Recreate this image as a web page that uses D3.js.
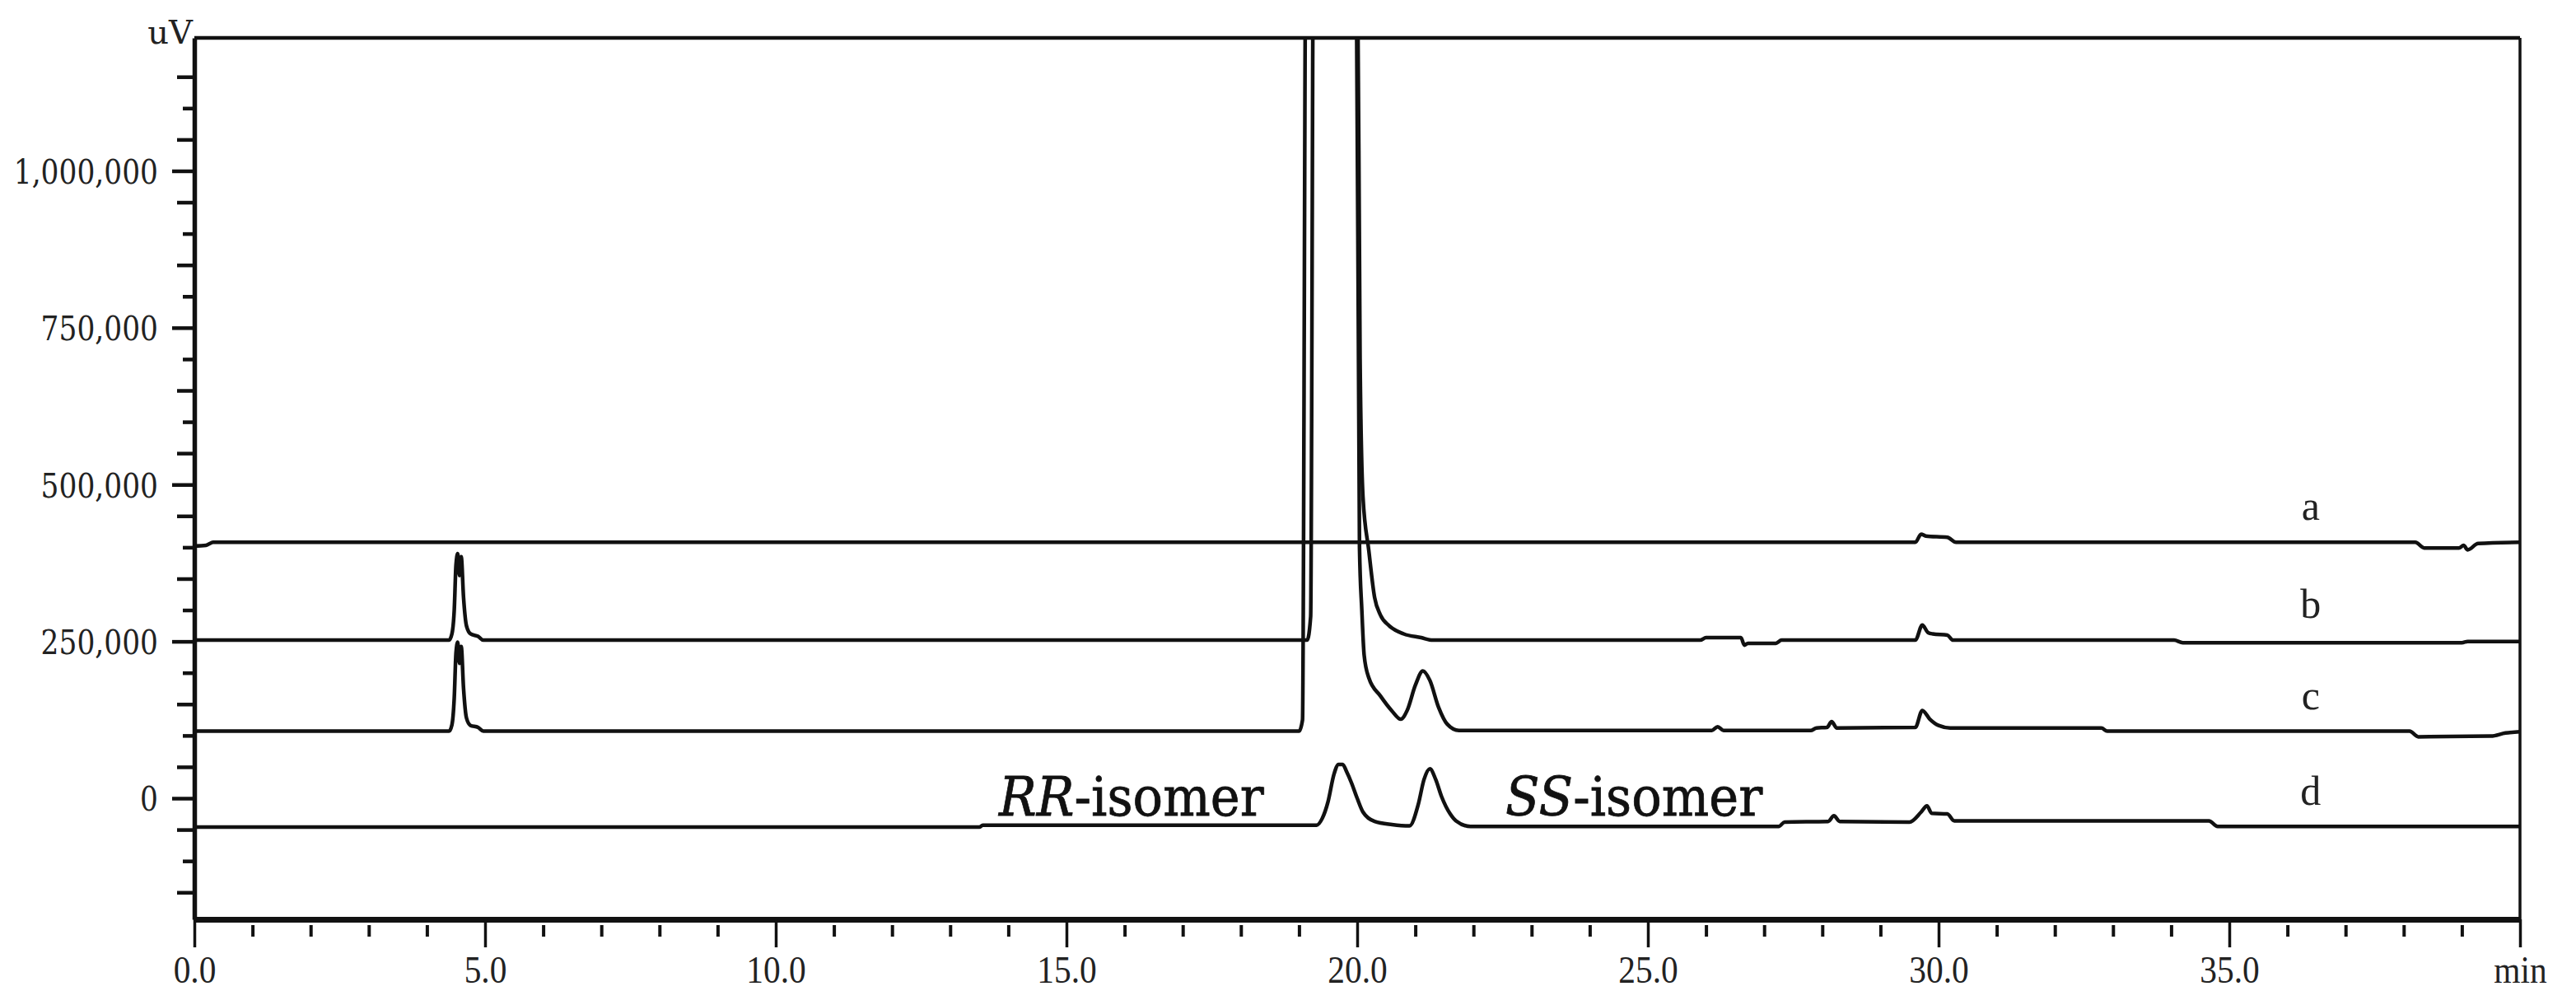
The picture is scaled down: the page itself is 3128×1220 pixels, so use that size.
<!DOCTYPE html>
<html>
<head>
<meta charset="utf-8">
<script src="https://cdn.jsdelivr.net/npm/d3@7"></script>
<style>
  body { margin: 0; background: #fff; }
  svg { display: block; }
</style>
</head>
<body>
<svg id="chart" width="3128" height="1220"></svg>
<script>
// chromatogram traces, [time (min), signal (uV)]
const seriesNames = ["a", "b", "c", "d"];
const baselines = [408000, 252000, 107000, -46000];

const traceA = [
  [0, 402000], [0.2, 403000], [0.32, 408000], [29.6, 408000], [29.7, 421000],
  [29.78, 418000], [30.15, 416000], [30.3, 408000], [38.2, 408000], [38.35, 399000],
  [38.95, 399000], [39.03, 403000], [39.1, 396000], [39.28, 406000], [40, 408000]
];

const traceB = [
  [0, 252000], [4.38, 252000], [4.43, 262000], [4.47, 300000], [4.5, 372000],
  [4.53, 390000], [4.56, 355000], [4.59, 385000], [4.63, 320000], [4.68, 275000],
  [4.75, 262000], [4.88, 258000], [4.97, 252000], [19.14, 252000], [19.2, 290000],
  [19.25, 1400000], [20.0, 1400000], [20.05, 700000], [20.1, 480000], [20.2, 395000],
  [20.3, 320000], [20.4, 292000], [20.55, 275000], [20.8, 262000], [21.1, 256000],
  [21.3, 252000], [25.9, 252000], [26.0, 256000], [26.6, 256000], [26.66, 244000],
  [26.72, 247000], [27.2, 247000], [27.3, 252000], [29.6, 252000], [29.72, 276000],
  [29.82, 264000], [29.9, 262000], [30.15, 260000], [30.25, 252000], [34.05, 252000],
  [34.2, 248000], [39.0, 248000], [39.1, 250000], [40, 250000]
];

const traceC = [
  [0, 107000], [4.38, 107000], [4.43, 117000], [4.47, 160000], [4.5, 232000],
  [4.53, 249000], [4.56, 215000], [4.59, 242000], [4.63, 175000], [4.68, 128000],
  [4.75, 116000], [4.88, 113000], [4.97, 107000], [19.0, 107000], [19.06, 125000],
  [19.12, 1400000], [19.98, 1400000], [20.04, 400000], [20.08, 300000], [20.12, 228000],
  [20.2, 192000], [20.4, 163000], [20.6, 139000], [20.75, 126000], [20.86, 140000],
  [21.0, 180000], [21.13, 203000], [21.25, 188000], [21.4, 145000], [21.55, 118000],
  [21.75, 108000], [26.1, 108000], [26.2, 114000], [26.3, 108000], [27.8, 108000],
  [27.9, 112000], [28.08, 113000], [28.16, 122000], [28.25, 112000], [29.6, 113000],
  [29.72, 140000], [29.85, 126000], [30.0, 116000], [30.2, 112000], [32.8, 112000],
  [32.9, 107000], [38.1, 107000], [38.25, 98000], [39.5, 99000], [39.75, 104000],
  [40, 106000]
];

const traceD = [
  [0, -46000], [13.5, -46000], [13.56, -43000], [19.3, -43000], [19.4, -32000],
  [19.5, -5000], [19.6, 38000], [19.68, 54000], [19.75, 54000], [19.82, 42000],
  [19.9, 25000], [20.0, 0], [20.1, -22000], [20.3, -37000], [20.6, -42000],
  [20.9, -44000], [21.05, -10000], [21.15, 30000], [21.25, 47000], [21.35, 30000],
  [21.45, 3000], [21.6, -25000], [21.7, -36000], [21.95, -45000], [27.25, -45000],
  [27.35, -38000], [28.1, -37000], [28.2, -28000], [28.3, -37000], [29.5, -38000],
  [29.7, -22000], [29.8, -12000], [29.88, -24000], [30.15, -25000], [30.27, -36000],
  [34.65, -36000], [34.8, -45000], [40, -45000]
];

const traces = [traceA, traceB, traceC, traceD];

// axis ticks
const xMajorTicks = [0, 5, 10, 15, 20, 25, 30, 35, 40];
const xMinorTicks = [1, 2, 3, 4, 6, 7, 8, 9, 11, 12, 13, 14, 16, 17, 18, 19, 21, 22, 23, 24,
  26, 27, 28, 29, 31, 32, 33, 34, 36, 37, 38, 39];
const yMajorTicks = [0, 250000, 500000, 750000, 1000000];
const yMinorTicks = d3.range(-150000, 1200000, 50000).filter(v => v % 250000 !== 0);

const annotations = [
  {ital: "RR", rest: "-isomer", t: 13.84, v: -27500},
  {ital: "SS", rest: "-isomer", t: 22.55, v: -27500}
];

// Setup
const svg = d3.select("#chart");
const x = d3.scaleLinear().domain([0, 40]).range([236, 3060]);
const y = d3.scaleLinear().domain([-193000, 1212000]).range([1116, 46]);
const [x0, x1] = x.range();
const [yb, yt] = y.range();

svg.append("defs").append("clipPath").attr("id", "plot")
  .append("rect")
    .attr("x", x0).attr("y", yt)
    .attr("width", x1 - x0).attr("height", yb - yt);

// Traces
const line = d3.line()
  .x(d => x(d[0]))
  .y(d => y(d[1]))
  .curve(d3.curveMonotoneX);

svg.append("g")
  .attr("clip-path", "url(#plot)")
  .selectAll("path")
  .data(traces)
  .join("path")
    .attr("d", line)
    .attr("fill", "none")
    .attr("stroke", "#111")
    .attr("stroke-width", 4.5)
    .attr("stroke-linejoin", "round");

// Frame
svg.append("line")
  .attr("x1", x0).attr("x2", x1).attr("y1", yt).attr("y2", yt)
  .attr("stroke", "#111").attr("stroke-width", 4.5);
svg.append("line")
  .attr("x1", x1).attr("x2", x1).attr("y1", yt).attr("y2", yb)
  .attr("stroke", "#111").attr("stroke-width", 3.5);

// Y axis
const yAxis = svg.append("g")
  .attr("transform", `translate(${x0},0)`)
  .call(d3.axisLeft(y).tickValues(yMajorTicks).tickSize(27).tickSizeOuter(0)
    .tickFormat(d3.format(",")));
yAxis.select(".domain").attr("stroke", "#111").attr("stroke-width", 5.5);
yAxis.selectAll(".tick line").attr("stroke", "#111").attr("stroke-width", 4.5);
yAxis.selectAll(".tick text")
  .attr("font-family", "DejaVu Serif")
  .attr("font-size", 41)
  .attr("fill", "#222")
  .attr("transform", "scale(0.84,1)")
  .attr("x", -44 / 0.84)
  .attr("dy", "0.36em");

const yMinor = svg.append("g")
  .attr("transform", `translate(${x0},0)`)
  .call(d3.axisLeft(y).tickValues(yMinorTicks).tickSize(21).tickFormat(""));
yMinor.select(".domain").remove();
yMinor.selectAll(".tick line")
  .attr("x2", d => d % 100000 === 0 ? -14 : -21)
  .attr("stroke", "#111").attr("stroke-width", 4.5);

// X axis
const xAxis = svg.append("g")
  .attr("transform", `translate(0,${yb})`)
  .call(d3.axisBottom(x).tickValues(xMajorTicks).tickSize(34).tickSizeOuter(0)
    .tickFormat(d => d === 40 ? "min" : d.toFixed(1)));
xAxis.select(".domain").attr("stroke", "#111").attr("stroke-width", 7);
xAxis.selectAll(".tick line").attr("stroke", "#111").attr("stroke-width", 3.5);
xAxis.selectAll(".tick text")
  .attr("font-family", "Liberation Serif")
  .attr("font-size", 46)
  .attr("fill", "#222")
  .attr("y", 77)
  .attr("dy", 0)
  .attr("transform", "scale(0.9,1)");

const xMinor = svg.append("g")
  .attr("transform", `translate(0,${yb})`)
  .call(d3.axisBottom(x).tickValues(xMinorTicks).tickSize(21).tickFormat(""));
xMinor.select(".domain").remove();
xMinor.selectAll(".tick line")
  .attr("y1", 7)
  .attr("stroke", "#111").attr("stroke-width", 4);

// Unit label
svg.append("text")
  .attr("x", x0 - 2)
  .attr("y", yt + 7)
  .attr("text-anchor", "end")
  .attr("font-family", "DejaVu Serif")
  .attr("font-size", 40)
  .attr("fill", "#222")
  .text("uV");

// Trace labels
svg.selectAll(".trace-label")
  .data(seriesNames)
  .join("text")
    .attr("class", "trace-label")
    .attr("x", x(36.4))
    .attr("y", (d, i) => y(baselines[i]) - 27)
    .attr("text-anchor", "middle")
    .attr("font-family", "Liberation Serif")
    .attr("font-size", 50)
    .attr("fill", "#222")
    .text(d => d);

// Isomer annotations
const ann = svg.selectAll(".ann")
  .data(annotations)
  .join("g")
    .attr("class", "ann")
    .attr("transform", d => `translate(${x(d.t)},${y(d.v)}) scale(0.92,1)`)
  .append("text")
    .attr("font-family", "DejaVu Serif")
    .attr("font-size", 66)
    .attr("fill", "#111")
    .attr("stroke", "#111")
    .attr("stroke-width", 0.8);
ann.append("tspan").attr("font-style", "italic").text(d => d.ital);
ann.append("tspan").text(d => d.rest);
</script>
</body>
</html>
